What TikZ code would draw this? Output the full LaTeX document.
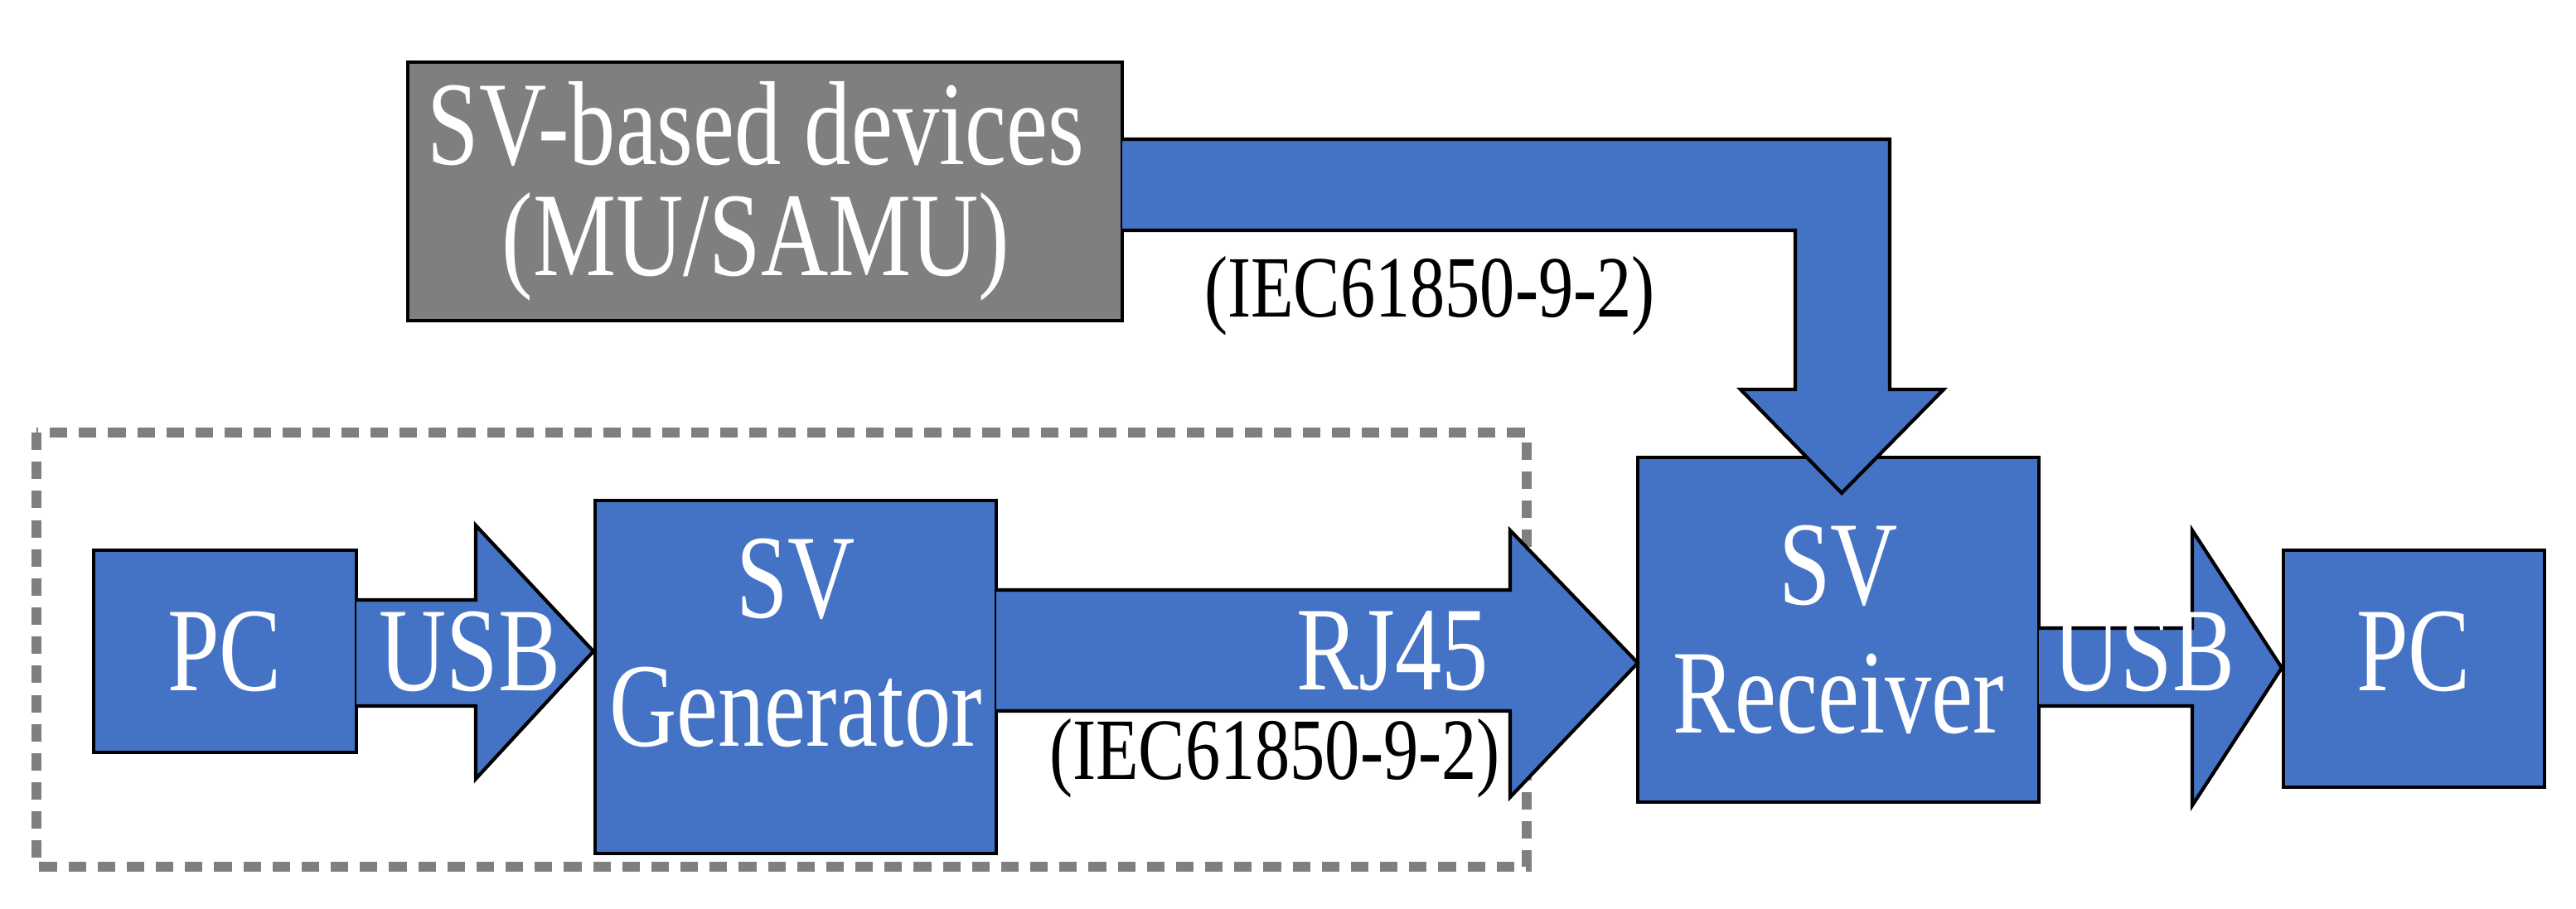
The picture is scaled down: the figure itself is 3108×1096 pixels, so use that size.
\documentclass[tikz,border=0pt]{standalone}
\usepackage{fontspec}
\setmainfont{Liberation Serif}
\begin{document}
\begin{tikzpicture}[x=0.01cm,y=-0.01cm,
  blk/.style={draw=black,line width=1.2pt,fill=blueA},
  lab/.style={text=white,font=\fontsize{41}{44}\selectfont,align=center,xscale=0.78,transform shape},
  small/.style={text=black,font=\fontsize{30}{36}\selectfont,xscale=0.8,transform shape}]
\definecolor{blueA}{HTML}{4472C4}
\definecolor{grayA}{HTML}{7F7F7F}
\useasboundingbox (0,0) rectangle (3108,1096);
% dashed box
\draw[grayA,line width=3.2pt,dash pattern=on 6pt off 4pt] (44,522) rectangle (1842,1046);
% boxes
\draw[draw=black,line width=1.2pt,fill=grayA] (492,75) rectangle (1354,387);
\node[lab,font=\fontsize{41}{38}\selectfont] (dev) at (912,231) {SV-based devices\\(MU/SAMU)};
\draw[blk] (113,664) rectangle (430,908);
\node[lab] (pc1) at (271,786) {PC};
\draw[blk] (718,604) rectangle (1202,1030);
\node[lab] (gen) at (960,776) {SV\\Generator};
\draw[blk] (1976,552) rectangle (2460,968);
\node[lab] (rec) at (2218,760) {SV\\Receiver};
\draw[blk] (2755,664) rectangle (3070,950);
\node[lab] (pc2) at (2912,786) {PC};
% arrows
\draw[blk] (430,724) -- (574,724) -- (574,634) -- (716,786) -- (574,940) -- (574,852) -- (430,852) ;
\node[lab] (usb1) at (567,786) {USB};
\draw[blk] (1202,712) -- (1822,712) -- (1822,640) -- (1976,800) -- (1822,962) -- (1822,858) -- (1202,858);
\node[lab] (rj) at (1680,786) {RJ45};
\draw[blk] (2460,758) -- (2645,758) -- (2645,640) -- (2753,806) -- (2645,972) -- (2645,852) -- (2460,852);
\node[lab] (usb2) at (2587,786) {USB};
\draw[blk] (1354,168) -- (2280,168) -- (2280,470) -- (2345,470) -- (2222,595) -- (2100,470) -- (2166,470) -- (2166,278) -- (1354,278);
\node[small] (iec1) at (1725,357) {(IEC61850-9-2)};
\node[small] (iec2) at (1538,915) {(IEC61850-9-2)};
\end{tikzpicture}
\end{document}
